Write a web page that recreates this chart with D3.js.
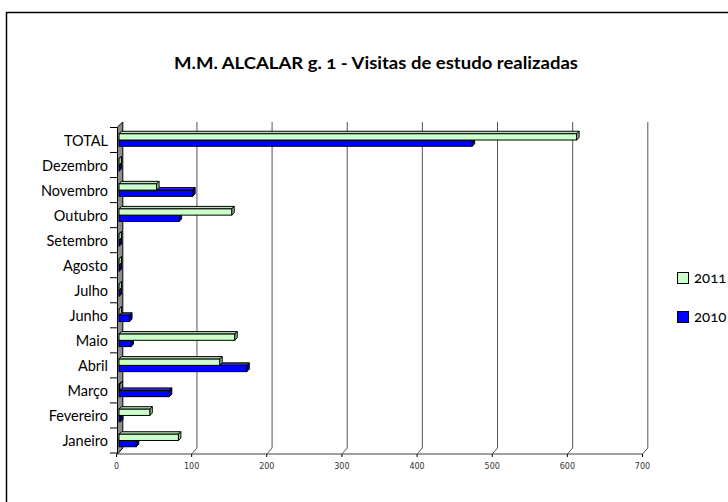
<!DOCTYPE html>
<html>
<head>
<meta charset="utf-8">
<script src="https://cdn.jsdelivr.net/npm/d3@7"></script>
<style>
  body { margin: 0; background: #fff; }
  svg { display: block; }
  .onum { font-feature-settings: 'onum' 1; font-variant-numeric: oldstyle-nums; }
</style>
</head>
<body>
<div id="app"></div>
<script>
// categories, bottom to top as in the original chart
const categories = ['Janeiro', 'Fevereiro', 'Março', 'Abril', 'Maio', 'Junho', 'Julho',
  'Agosto', 'Setembro', 'Outubro', 'Novembro', 'Dezembro', 'TOTAL']
const series = ['2011', '2010']
const values2010 = [23, 2, 67, 170, 16, 14, 0, 0, 0, 80, 98, 0, 470]
const values2011 = [79, 41, 1, 134, 154, 0, 0, 0, 0, 150, 50, 0, 609]
const xTicks = [0, 100, 200, 300, 400, 500, 600, 700]
const colors = {
  '2011': { front: '#ccffcc', side: '#99cc99', top: '#b3e6b3' },
  '2010': { front: '#0000ff', side: '#0000a8', top: '#3333ff' }
}

function main() {
  const app = d3.select('#app')
  const W = 728, H = 502

  const svg = d3.create('svg').attr('width', W).attr('height', H)

  // outer frame (cut off on the right and bottom like the source)
  svg.append('rect')
    .attr('x', 6.5).attr('y', 12.5).attr('width', 760).attr('height', 520)
    .attr('fill', 'none').attr('stroke', '#000').attr('stroke-width', 1.5)

  // title
  svg.append('text')
    .attr('class', 'onum')
    .attr('x', 376).attr('y', 69)
    .attr('text-anchor', 'middle')
    .style('font-family', 'Lato, "Open Sans", sans-serif')
    .style('font-weight', 'bold')
    .style('font-size', '17px')
    .attr('textLength', 404)
    .attr('lengthAdjust', 'spacingAndGlyphs')
    .text('M.M. ALCALAR g. 1 - Visitas de estudo realizadas')

  // scales
  const x = d3.scaleLinear().domain([0, 700]).range([116.5, 642.5])
  const y = d3.scaleBand().domain(categories.slice().reverse()).range([127.5, 453])
  const bw = y.bandwidth()
  const ySub = d3.scaleBand().domain(series).range([bw * 0.25, bw * 0.75])

  const dx = 5.3, dy = -6   // wall depth
  const floorY = 454
  const topY = 122

  // back wall gridlines going down onto the floor
  const grid = svg.append('g').attr('fill', 'none').attr('stroke', '#555').attr('stroke-width', 1)
  xTicks.slice(1).forEach((t) => {
    grid.append('path')
      .attr('d', `M${x(t) + dx},${topY} L${x(t) + dx},${floorY + dy} L${x(t)},${floorY}`)
  })

  // floor axis line
  svg.append('line')
    .attr('x1', x(0)).attr('x2', x(700))
    .attr('y1', floorY).attr('y2', floorY)
    .attr('stroke', '#808080').attr('stroke-width', 1.5)

  // floor ticks + labels
  const xt = svg.append('g')
  xt.selectAll('line').data(xTicks).join('line')
    .attr('x1', (d) => x(d)).attr('x2', (d) => x(d))
    .attr('y1', floorY).attr('y2', floorY + 3)
    .attr('stroke', '#000')
  xt.selectAll('text').data(xTicks).join('text')
    .attr('x', (d) => x(d)).attr('y', floorY + 15)
    .attr('text-anchor', 'middle')
    .style('font-family', '"DejaVu Sans", sans-serif')
    .style('font-size', '8px')
    .attr('fill', '#333')
    .text((d) => d)

  // left wall strip
  svg.append('path')
    .attr('d', `M${x(0) + 1},${127} L${x(0) + 1 + dx},${topY} L${x(0) + 1 + dx},${floorY + dy} L${x(0) + 1},${floorY} Z`)
    .attr('fill', '#8c8c8c').attr('stroke', '#000').attr('stroke-width', 1)

  // category ticks
  const cats = y.domain()
  const bounds = cats.map((c) => y(c)).concat([y.range()[1]])
  svg.append('g').selectAll('line').data(bounds).join('line')
    .attr('x1', 110).attr('x2', x(0) + 1)
    .attr('y1', (d) => d).attr('y2', (d) => d)
    .attr('stroke', '#000')

  // category labels
  svg.append('g').selectAll('text').data(cats).join('text')
    .attr('x', 108)
    .attr('y', (d) => y(d) + bw / 2 + 5.5)
    .attr('text-anchor', 'end')
    .style('font-family', 'Lato, "Open Sans", sans-serif')
    .style('font-size', '14.5px')
    .text((d) => d)

  // bars (3D look: front, top and side faces)
  const d3d = 2.5
  const shift = 2.5
  const rows = []
  categories.forEach((c, i) => {
    rows.push({ cat: c, s: '2010', v: values2010[i] })
    rows.push({ cat: c, s: '2011', v: values2011[i] })
  })
  const bars = svg.append('g').attr('stroke', '#000').attr('stroke-width', 1)
    .selectAll('g').data(rows).join('g')
  bars.each(function (d) {
    const g = d3.select(this)
    const x0 = x(0) + shift
    const x1 = x(d.v) + shift
    const y0 = y(d.cat) + ySub(d.s)
    const y1 = y0 + ySub.bandwidth()
    const col = colors[d.s]
    g.append('path')
      .attr('d', `M${x0},${y0} L${x0 + d3d},${y0 - d3d} L${x1 + d3d},${y0 - d3d} L${x1},${y0} Z`)
      .attr('fill', col.top)
    g.append('path')
      .attr('d', `M${x1},${y0} L${x1 + d3d},${y0 - d3d} L${x1 + d3d},${y1 - d3d} L${x1},${y1} Z`)
      .attr('fill', col.side)
    g.append('rect')
      .attr('x', x0).attr('y', y0)
      .attr('width', Math.max(0, x1 - x0)).attr('height', y1 - y0)
      .attr('fill', col.front)
  })

  // legend
  const legend = svg.append('g')
  const legendItems = [{ s: '2011', y: 272 }, { s: '2010', y: 311 }]
  legend.selectAll('rect').data(legendItems).join('rect')
    .attr('x', 677.5).attr('y', (d) => d.y + 0.5)
    .attr('width', 11).attr('height', 11)
    .attr('fill', (d) => colors[d.s].front)
    .attr('stroke', '#000')
  legend.selectAll('text').data(legendItems).join('text')
    .attr('class', 'onum')
    .attr('x', 694).attr('y', (d) => d.y + 11)
    .style('font-family', 'Lato, "Open Sans", sans-serif')
    .style('font-size', '15px')
    .text((d) => d.s)

  app.append(() => svg.node())
}

main()
</script>
</body>
</html>
